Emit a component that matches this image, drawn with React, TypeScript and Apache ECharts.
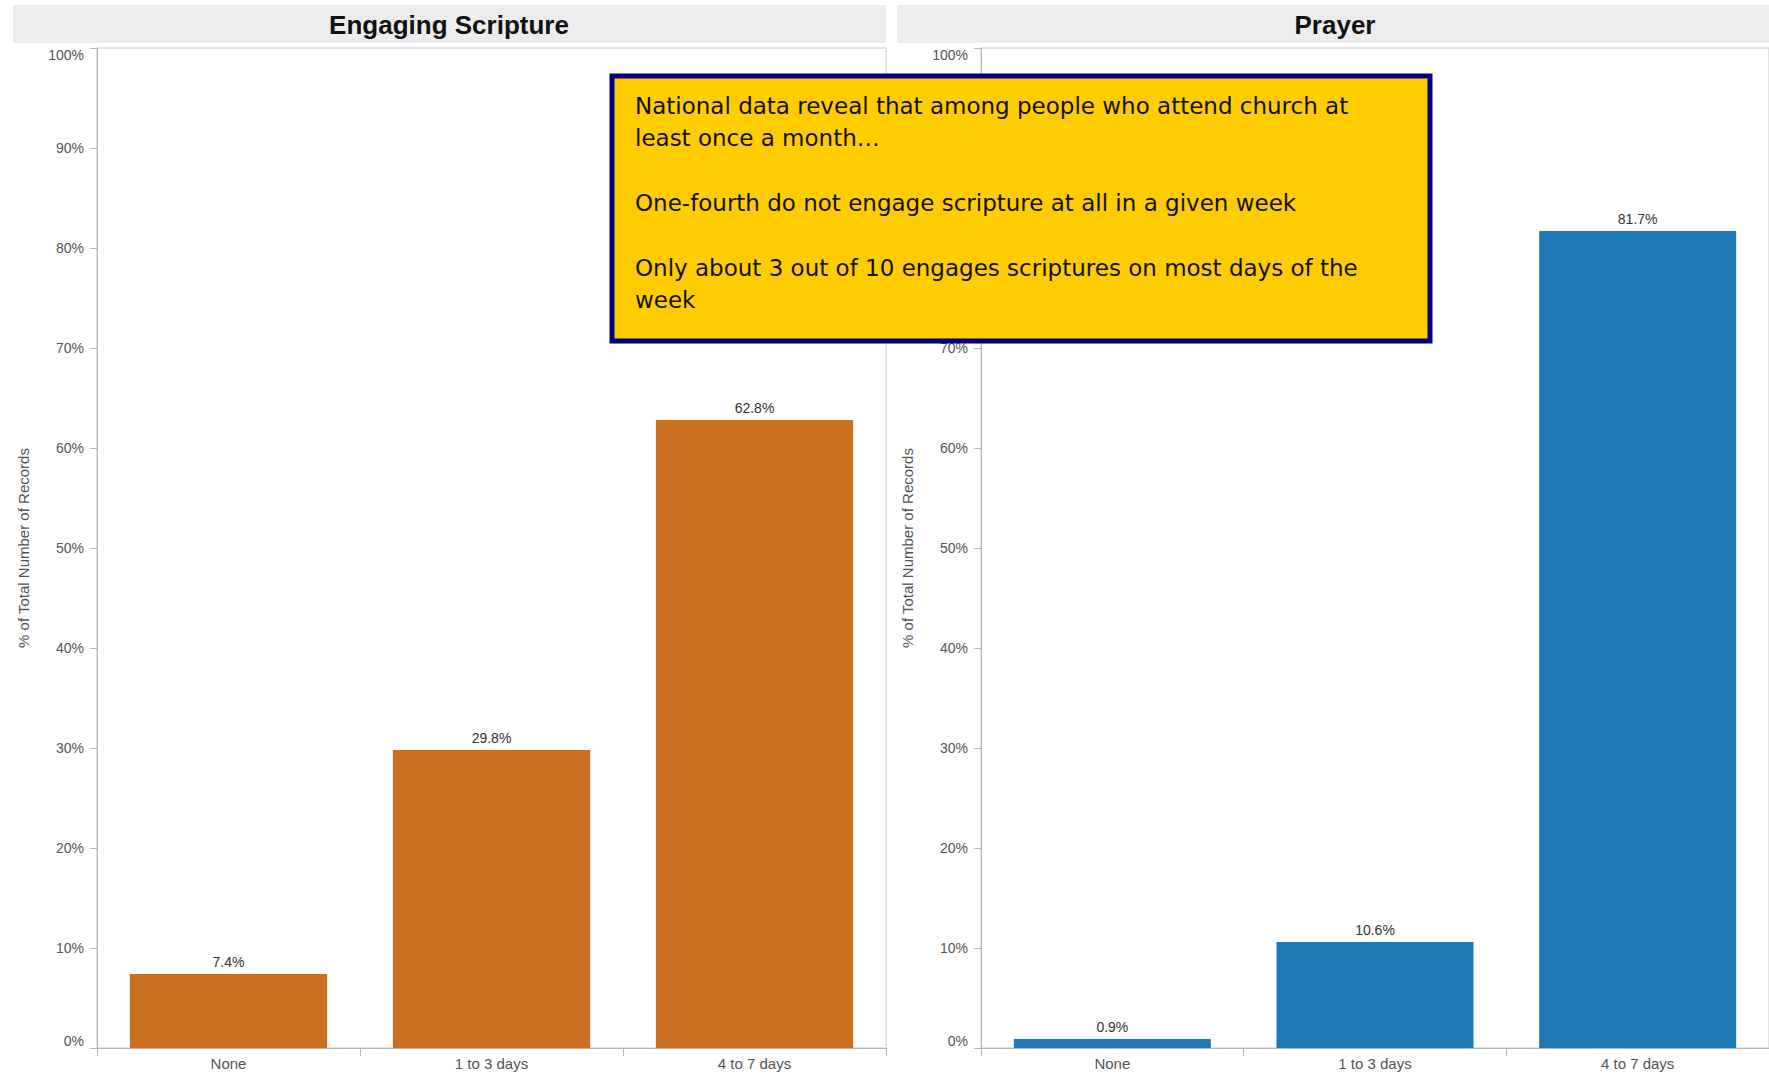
import React, { useEffect, useRef } from "react";
import * as echarts from "echarts";

const categories = ["None", "1 to 3 days", "4 to 7 days"];
const scriptureValues = [7.4, 29.8, 62.8];
const prayerValues = [0.9, 10.6, 81.7];
const panelTitles = ["Engaging Scripture", "Prayer"];
const yAxisName = "% of Total Number of Records";
const yTicks = { min: 0, max: 100, interval: 10 };
const noteText = [
  "National data reveal that among people who attend church at",
  "least once a month\u2026",
  "",
  "One-fourth do not engage scripture at all in a given week",
  "",
  "Only about 3 out of 10 engages scriptures on most days of the",
  "week",
].join("\n");

const FONT = '"Liberation Sans", Arial, sans-serif';
const NOTE_FONT = '"DejaVu Sans", Verdana, sans-serif';

export default function App() {
  const ref = useRef<HTMLDivElement>(null);
  useEffect(() => {
    if (!ref.current) return;
    const chart = echarts.init(ref.current, null, { renderer: "svg" });
    const grids = [
      { left: 97, top: 48, width: 789, height: 1000 },
      { left: 981, top: 48, width: 789, height: 1000 },
    ];
    const seriesData = [scriptureValues, prayerValues];
    const colors = ["#CB7020", "#1F77B4"];

    const yAxes = grids.map((_, i) => ({
      type: "value",
      gridIndex: i,
      min: yTicks.min,
      max: yTicks.max,
      interval: yTicks.interval,
      name: yAxisName,
      nameLocation: "middle",
      nameGap: 66,
      nameTextStyle: { fontFamily: FONT, fontSize: 15, color: "#555" },
      axisLine: { show: true, lineStyle: { color: "#b5b5b5", width: 1 } },
      axisTick: { show: true, length: 7, lineStyle: { color: "#b5b5b5" } },
      splitLine: { show: false },
      axisLabel: {
        formatter: "{value}%",
        fontFamily: FONT,
        fontSize: 14,
        color: "#555",
        margin: 13,
        verticalAlignMaxLabel: "top",
        verticalAlignMinLabel: "bottom",
      },
    }));

    const xAxes = grids.map((_, i) => ({
      type: "category",
      gridIndex: i,
      data: categories,
      axisLine: { show: true, lineStyle: { color: "#b5b5b5", width: 1 } },
      axisTick: { show: true, length: 8, lineStyle: { color: "#b5b5b5" } },
      axisLabel: { fontFamily: FONT, fontSize: 15, color: "#555", margin: 8 },
    }));

    const series = seriesData.map((d, i) => ({
      type: "bar",
      xAxisIndex: i,
      yAxisIndex: i,
      data: d,
      barCategoryGap: "25%",
      itemStyle: { color: colors[i] },
      label: {
        show: true,
        position: "top",
        distance: 5,
        fontFamily: FONT,
        fontSize: 14,
        color: "#333",
        formatter: (p: any) => Number(p.value).toFixed(1) + "%",
      },
    }));

    chart.setOption({
      animation: false,
      backgroundColor: "#ffffff",
      grid: grids.map((g) => ({
        ...g,
        show: true,
        borderColor: "#c8c8c8",
        borderWidth: 1,
        backgroundColor: "#ffffff",
        containLabel: false,
      })),
      xAxis: xAxes,
      yAxis: yAxes,
      series,
      graphic: [
        {
          type: "rect",
          shape: { x: 13, y: 5, width: 873, height: 38 },
          style: { fill: "#ECECEE" },
          z: 1,
        },
        {
          type: "rect",
          shape: { x: 897, y: 5, width: 872, height: 38 },
          style: { fill: "#ECECEE" },
          z: 1,
        },
        {
          type: "text",
          x: 449,
          y: 25,
          style: {
            text: panelTitles[0],
            fontFamily: FONT,
            fontSize: 26,
            fontWeight: "bold",
            fill: "#111",
            align: "center",
            verticalAlign: "middle",
          },
          z: 2,
        },
        {
          type: "text",
          x: 1335,
          y: 25,
          style: {
            text: panelTitles[1],
            fontFamily: FONT,
            fontSize: 26,
            fontWeight: "bold",
            fill: "#111",
            align: "center",
            verticalAlign: "middle",
          },
          z: 2,
        },
        {
          type: "rect",
          shape: { x: 612, y: 76, width: 818, height: 265 },
          style: { fill: "#FFCC00", stroke: "#000080", lineWidth: 5 },
          z: 100,
        },
        {
          type: "text",
          x: 635,
          y: 90,
          style: {
            text: noteText,
            fontFamily: NOTE_FONT,
            fontSize: 23,
            lineHeight: 32.3,
            fill: "#111",
            align: "left",
            verticalAlign: "top",
          },
          z: 101,
        },
      ],
    });
    return () => chart.dispose();
  }, []);
  return (
    <div
      ref={ref}
      style={{ position: "fixed", left: 0, top: 0, width: 1769, height: 1075, background: "#fff" }}
    />
  );
}
